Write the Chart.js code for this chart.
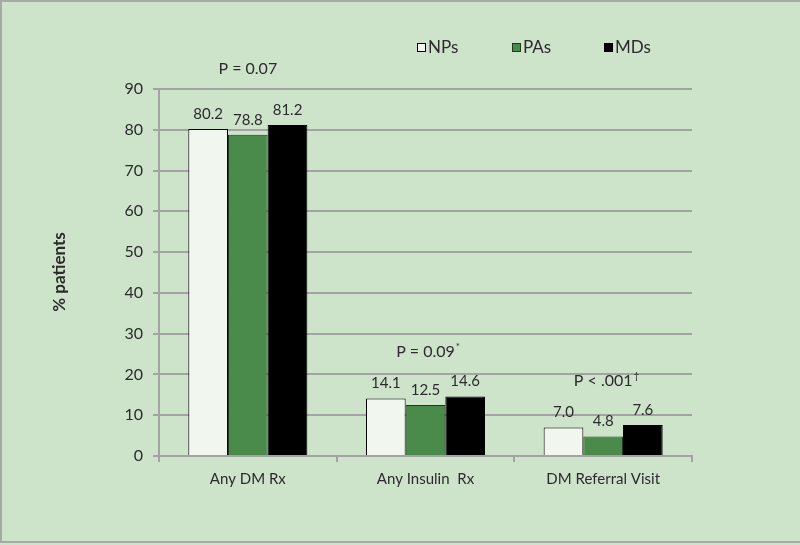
<!DOCTYPE html>
<html>
<head>
<meta charset="utf-8">
<script src="https://cdn.jsdelivr.net/npm/chart.js@4"></script>
<style>
  html, body { margin: 0; padding: 0; background: #cde4cb; }
  #wrap { width: 800px; height: 545px; }
</style>
</head>
<body>
<div id="wrap"><canvas id="chart1" width="800" height="545"></canvas></div>
<script>
// Chart data
const categories = ['Any DM Rx', 'Any Insulin  Rx', 'DM Referral Visit'];
const seriesNames = ['NPs', 'PAs', 'MDs'];
const npValues = [80.2, 14.1, 7.0];
const paValues = [78.8, 12.5, 4.8];
const mdValues = [81.2, 14.6, 7.6];
const pLabels = ['P = 0.07', 'P = 0.09', 'P < .001'];
const pMarks = ['', '*', '\u2020'];
const yTicks = [0, 10, 20, 30, 40, 50, 60, 70, 80, 90];

const textColor = '#2b2b2b';
const gridColor = '#a3a3a3';
const fontFamily = 'Lato, "Open Sans", sans-serif';

// background + frame
const bgPlugin = {
    id: 'bg',
    beforeDraw(chart) {
        const ctx = chart.ctx;
        ctx.save();
        ctx.fillStyle = '#cde4cb';
        ctx.fillRect(0, 0, chart.width, chart.height);
        ctx.strokeStyle = '#a4aca3';
        ctx.lineWidth = 2;
        ctx.strokeRect(1, 1, chart.width + 5, 541);
        ctx.restore();
    }
};

// value labels, p-values, legend and y title
const extrasPlugin = {
    id: 'extras',
    afterDatasetsDraw(chart) {
        const ctx = chart.ctx;
        const y = chart.scales.y;
        ctx.save();
        ctx.fillStyle = textColor;
        ctx.textAlign = 'center';
        ctx.textBaseline = 'middle';
        ctx.font = '15px ' + fontFamily;

        chart.data.datasets.forEach((ds, i) => {
            chart.getDatasetMeta(i).data.forEach((bar, j) => {
                ctx.fillText(ds.data[j].toFixed(1), bar.x, bar.y - 15);
            });
        });

        // p-values above each group
        const pLevels = [94.9, 25.5, 18.4];
        const x = chart.scales.x;
        ctx.font = '16px ' + fontFamily;
        pLabels.forEach((t, j) => {
            const cx = x.getPixelForValue(j);
            const cy = y.getPixelForValue(pLevels[j]);
            ctx.textAlign = 'center';
            ctx.fillText(t, cx, cy);
            if (pMarks[j]) {
                const w = ctx.measureText(t).width;
                ctx.font = '10px ' + fontFamily;
                ctx.textAlign = 'left';
                ctx.fillText(pMarks[j], cx + w / 2 + 1, cy - 5);
                ctx.font = '16px ' + fontFamily;
            }
        });

        // legend
        const legendX = [417, 512, 604];
        ctx.font = '17px ' + fontFamily;
        ctx.textAlign = 'left';
        chart.data.datasets.forEach((ds, i) => {
            const lx = legendX[i];
            ctx.fillStyle = ds.backgroundColor;
            ctx.fillRect(lx, 43, 9, 9);
            ctx.strokeStyle = ds.borderColor;
            ctx.lineWidth = 1;
            ctx.strokeRect(lx + 0.5, 43.5, 8, 8);
            ctx.fillStyle = textColor;
            ctx.fillText(ds.label, lx + 11, 48);
        });

        // y axis title
        ctx.translate(60, 272);
        ctx.rotate(-Math.PI / 2);
        ctx.textAlign = 'center';
        ctx.font = 'bold 17px ' + fontFamily;
        ctx.fillText('% patients', 0, 0);
        ctx.restore();
    }
};

new Chart(document.getElementById('chart1'), {
    type: 'bar',
    data: {
        labels: categories,
        datasets: [{
            label: seriesNames[0],
            data: npValues,
            backgroundColor: '#f1f6ef',
            borderColor: '#000000',
            borderWidth: 1
        }, {
            label: seriesNames[1],
            data: paValues,
            backgroundColor: '#4a8a4b',
            borderColor: '#1e3a1e',
            borderWidth: 1
        }, {
            label: seriesNames[2],
            data: mdValues,
            backgroundColor: '#000000',
            borderColor: '#000000',
            borderWidth: 1
        }]
    },
    options: {
        responsive: false,
        animation: false,
        layout: { padding: { top: 89, right: 108, left: 0, bottom: 0 } },
        categoryPercentage: 0.67,
        barPercentage: 1.0,
        plugins: {
            legend: { display: false },
            tooltip: { enabled: false }
        },
        scales: {
            x: {
                grid: {
                    drawOnChartArea: false,
                    drawTicks: true,
                    tickLength: 6,
                    color: gridColor,
                    lineWidth: 2
                },
                border: { color: gridColor, width: 2 },
                ticks: {
                    color: textColor,
                    padding: 8,
                    font: { family: fontFamily, size: 15 }
                },
                afterFit(scale) { scale.height = 89; }
            },
            y: {
                min: 0,
                max: 90,
                afterBuildTicks(scale) { scale.ticks = yTicks.map(v => ({ value: v })); },
                grid: {
                    color: gridColor,
                    lineWidth: 2,
                    tickLength: 6
                },
                border: { color: gridColor, width: 2 },
                ticks: {
                    color: textColor,
                    padding: 10,
                    font: { family: fontFamily, size: 16 }
                },
                afterFit(scale) { scale.width = 159; }
            }
        }
    },
    plugins: [bgPlugin, extrasPlugin]
});
</script>
</body>
</html>
